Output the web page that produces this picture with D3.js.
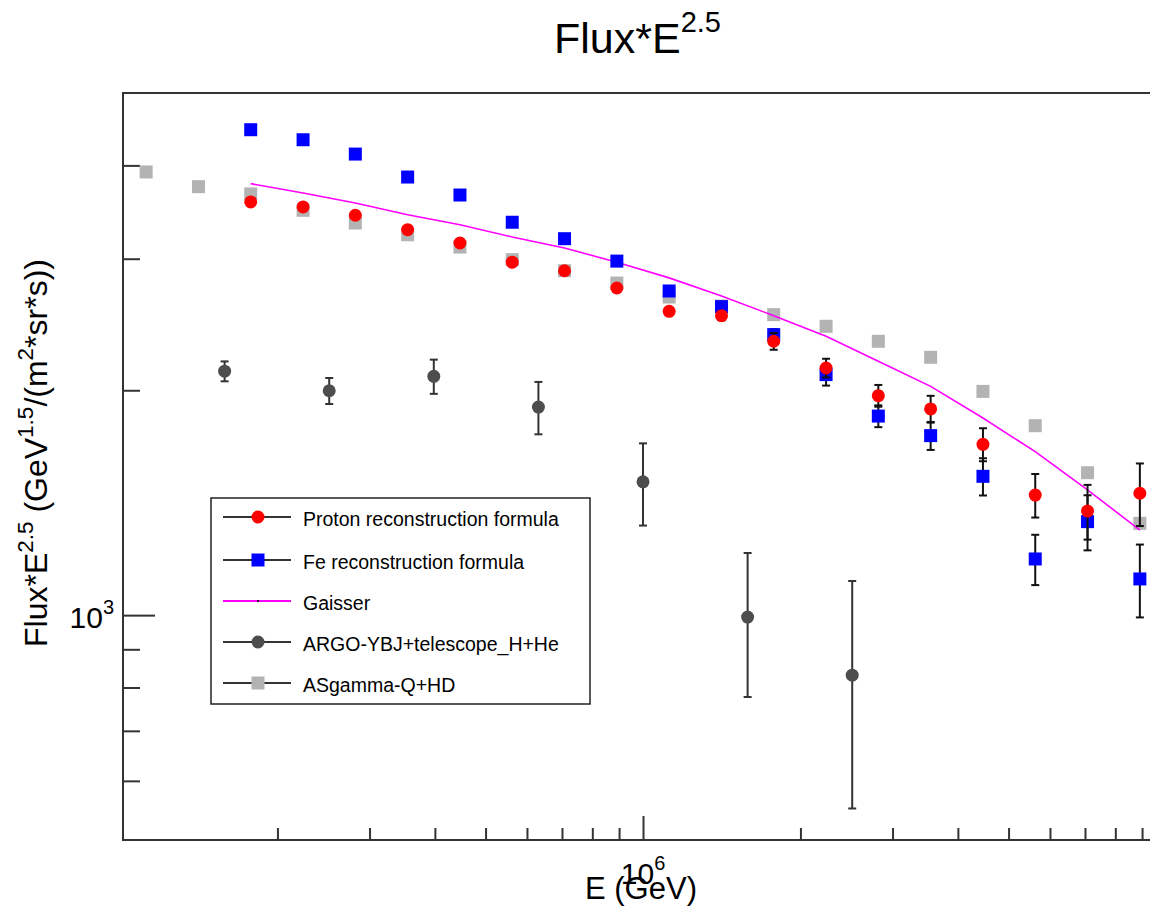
<!DOCTYPE html>
<html><head><meta charset="utf-8">
<script src="https://cdn.jsdelivr.net/npm/d3@7"></script>
<style>
body{margin:0;background:#fff}
svg{display:block}
text{font-family:"Liberation Sans",Arial,Helvetica,sans-serif;fill:#000}
</style>
</head><body>
<svg id="c" width="1150" height="911"></svg>
<script>
// ---------------- data ----------------
const energyAS = [1.122e5,1.413e5,1.778e5,2.239e5,2.818e5,3.548e5,4.467e5,5.623e5,7.079e5,8.913e5,
                  1.122e6,1.413e6,1.778e6,2.239e6,2.818e6,3.548e6,4.467e6,5.623e6,7.079e6,8.913e6];
const asgammaVal = [3920,3746,3663,3483,3349,3230,3110,2991,2891,2783,2666,2593,2525,2436,2326,2214,1993,1793,1551,1327];

const energyRec = [1.778e5,2.239e5,2.818e5,3.548e5,4.467e5,5.623e5,7.079e5,8.913e5,
                   1.122e6,1.413e6,1.778e6,2.239e6,2.818e6,3.548e6,4.467e6,5.623e6,7.079e6,8.913e6];
const protonVal = [3574,3519,3430,3281,3149,2968,2891,2741,2551,2517,2326,2142,1967,1888,1693,1448,1378,1456];
const protonErr = [15,15,15,20,20,20,25,25,30,35,60,62,66,78,86,97,116,140];
const feVal = [4465,4329,4142,3859,3651,3357,3191,2978,2716,2588,2374,2099,1847,1739,1534,1189,1334,1118];
const feErr = [15,15,15,20,20,20,25,25,30,35,40,70,62,75,88,92,113,125];
const gaisserVal = [3781,3674,3562,3436,3332,3208,3101,2968,2828,2675,2517,2362,2187,2024,1836,1655,1471,1300];

const energyArgo = [1.585e5,2.512e5,3.981e5,6.310e5,1.0e6,1.585e6,2.512e6];
const argoVal = [2121,1997,2088,1899,1508,994,831];
const argoErr = [65,80,110,153,190,217,280];

const xMinorTicks = [2e5,3e5,4e5,5e5,6e5,7e5,8e5,9e5,2e6,3e6,4e6,5e6,6e6,7e6,8e6,9e6];
const xMajorTicks = [1e6];
const yMinorTicks = [600,700,800,900,2000,3000,4000];
const yMajorTicks = [1000];

const legendLabels = ["Proton reconstruction formula","Fe reconstruction formula","Gaisser","ARGO-YBJ+telescope_H+He","ASgamma-Q+HD"];

// ---------------- layout ----------------
const svg = d3.select("#c");
const F = {left:123, top:93, right:1166, bottom:840};
const x = d3.scaleLog().domain([1e5,1e7]).range([120,1166]);
const y = d3.scaleLog().domain([500,5000]).range([F.bottom,F.top]);
const AX = "#333";

// frame
svg.append("rect").attr("x",F.left).attr("y",F.top)
  .attr("width",F.right-F.left).attr("height",F.bottom-F.top)
  .attr("fill","none").attr("stroke",AX).attr("stroke-width",2);

function styleAxis(g){
  g.select(".domain").remove();
  g.attr("color",AX);
  g.selectAll(".tick line").attr("stroke-width",2);
}
// x axis ticks
svg.append("g").attr("transform",`translate(0,${F.bottom})`)
  .call(d3.axisBottom(x).tickValues(xMinorTicks).tickSize(-12).tickFormat(""))
  .call(styleAxis);
svg.append("g").attr("transform",`translate(0,${F.bottom})`)
  .call(d3.axisBottom(x).tickValues(xMajorTicks).tickSize(-24).tickFormat(""))
  .call(styleAxis);
// y axis ticks
svg.append("g").attr("transform",`translate(${F.left},0)`)
  .call(d3.axisLeft(y).tickValues(yMinorTicks).tickSize(-17).tickFormat(""))
  .call(styleAxis);
svg.append("g").attr("transform",`translate(${F.left},0)`)
  .call(d3.axisLeft(y).tickValues(yMajorTicks).tickSize(-32).tickFormat(""))
  .call(styleAxis);

// power-of-ten labels
function powLabel(t, exp, fs, supFs, supDy){
  t.append("tspan").attr("font-size",fs).text("10");
  t.append("tspan").attr("font-size",supFs).attr("dy",supDy).text(exp);
}
xMajorTicks.forEach(v=>{
  const t = svg.append("text").attr("x",x(v)).attr("y",884).attr("text-anchor","middle");
  powLabel(t, String(Math.round(Math.log10(v))), 30, 20, -14);
});
yMajorTicks.forEach(v=>{
  const t = svg.append("text").attr("x",114).attr("y",y(v)+13).attr("text-anchor","end");
  powLabel(t, String(Math.round(Math.log10(v))), 30, 20, -14);
});

// titles
{
  const t = svg.append("text").attr("x",554).attr("y",53).attr("font-size",43);
  t.append("tspan").text("Flux*E");
  t.append("tspan").attr("font-size",29).attr("dy",-21).text("2.5");
}
svg.append("text").attr("x",585).attr("y",899).attr("font-size",31).text("E (GeV)");
{
  const t = svg.append("text").attr("font-size",32)
    .attr("transform","translate(47,647) rotate(-90)");
  const parts = [["Flux*E",0],["2.5",1],[" (GeV",0],["1.5",1],["/(m",0],["2",1],["*sr*s))",0]];
  let up=false;
  parts.forEach(([s,sup])=>{
    const ts = t.append("tspan").text(s);
    if(sup){ ts.attr("font-size",22.5).attr("dy",up?0:-14); up=true; }
    else { ts.attr("dy",up?14:0); up=false; }
  });
}

// ---------------- marks ----------------
const g = svg.append("g");
function errBars(E, V, Err, color){
  const eg = g.append("g").attr("stroke",color).attr("stroke-width",2);
  E.forEach((e,i)=>{
    const cx = x(e), y1 = y(V[i]+Err[i]), y2 = y(V[i]-Err[i]);
    eg.append("line").attr("x1",cx).attr("x2",cx).attr("y1",y1).attr("y2",y2);
    eg.append("line").attr("x1",cx-4).attr("x2",cx+4).attr("y1",y1).attr("y2",y1);
    eg.append("line").attr("x1",cx-4).attr("x2",cx+4).attr("y1",y2).attr("y2",y2);
  });
}
function squares(E,V,color){
  g.append("g").selectAll("rect").data(E).join("rect")
    .attr("x",(d)=>x(d)-6.5).attr("y",(d,i)=>y(V[i])-6.5)
    .attr("width",13).attr("height",13).attr("fill",color);
}
function circles(E,V,color){
  g.append("g").selectAll("circle").data(E).join("circle")
    .attr("cx",d=>x(d)).attr("cy",(d,i)=>y(V[i])).attr("r",6.5).attr("fill",color);
}

// ASgamma (light gray squares)
squares(energyAS, asgammaVal, "#b3b3b3");
// Gaisser line
g.append("path").datum(energyRec)
  .attr("d", d3.line().x(d=>x(d)).y((d,i)=>y(gaisserVal[i])))
  .attr("fill","none").attr("stroke","#ff00ff").attr("stroke-width",1.6);
// Fe
errBars(energyRec, feVal, feErr, "#111");
squares(energyRec, feVal, "#0000ff");
// Proton
errBars(energyRec, protonVal, protonErr, "#111");
circles(energyRec, protonVal, "#ff0000");
// ARGO
errBars(energyArgo, argoVal, argoErr, "#333");
circles(energyArgo, argoVal, "#4d4d4d");

// ---------------- legend ----------------
const L = svg.append("g");
L.append("rect").attr("x",211).attr("y",498).attr("width",379).attr("height",206)
  .attr("fill","#fff").attr("stroke","#222").attr("stroke-width",1.5);
const rowY = [517,560,601,642,683];
const lx1 = 223, lx2 = 291, mx = 258;
legendLabels.forEach((lab,i)=>{
  const ry = rowY[i];
  L.append("line").attr("x1",lx1).attr("x2",lx2).attr("y1",ry).attr("y2",ry)
    .attr("stroke", i===2 ? "#ff00ff" : "#333").attr("stroke-width",2);
  if(i===0) L.append("circle").attr("cx",mx).attr("cy",ry).attr("r",6.5).attr("fill","#ff0000");
  if(i===1) L.append("rect").attr("x",mx-6.5).attr("y",ry-6.5).attr("width",13).attr("height",13).attr("fill","#0000ff");
  if(i===2) L.append("circle").attr("cx",mx).attr("cy",ry).attr("r",1).attr("fill","#000");
  if(i===3) L.append("circle").attr("cx",mx).attr("cy",ry).attr("r",6.5).attr("fill","#4d4d4d");
  if(i===4) L.append("rect").attr("x",mx-6.5).attr("y",ry-6.5).attr("width",13).attr("height",13).attr("fill","#b3b3b3");
  L.append("text").attr("x",303).attr("y",ry+9).attr("font-size",19.5).text(lab);
});
</script>
</body></html>
